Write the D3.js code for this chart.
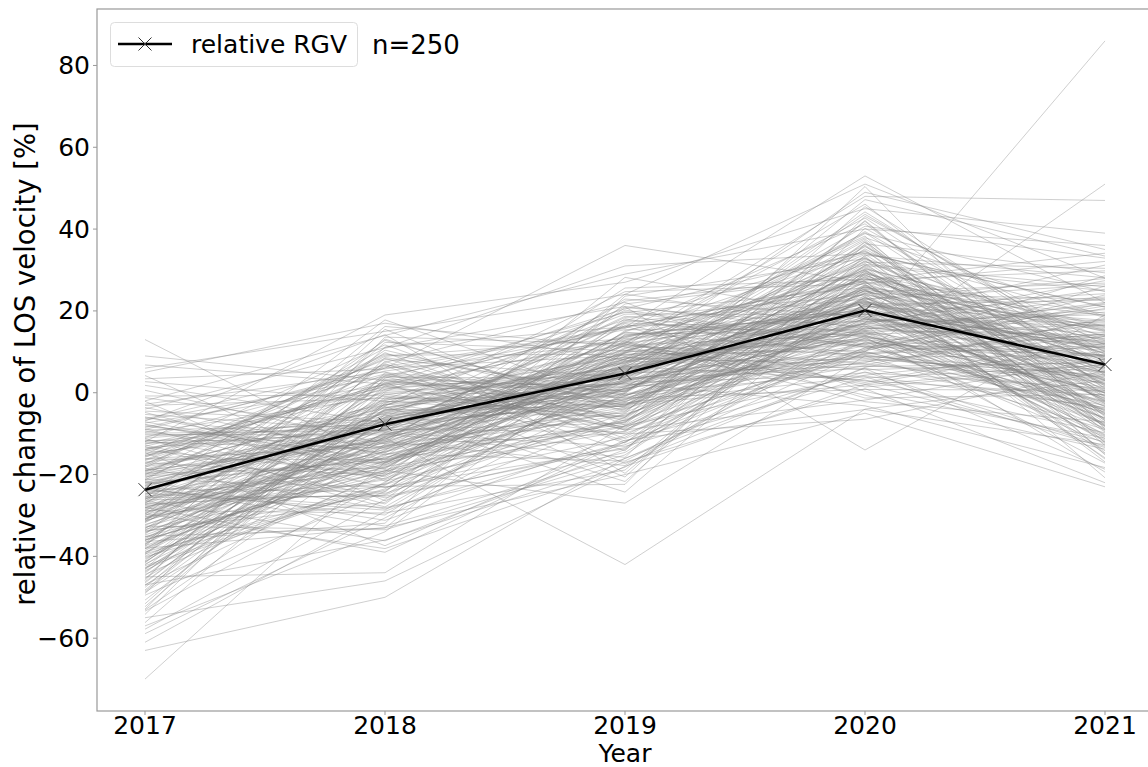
<!DOCTYPE html>
<html>
<head>
<meta charset="utf-8">
<script src="https://cdn.jsdelivr.net/npm/d3@7"></script>
<style>
  html, body { margin: 0; padding: 0; background: #fff; }
  svg { display: block; font-family: "DejaVu Sans", sans-serif; }
</style>
</head>
<body>
<svg id="chart" width="1148" height="767"></svg>
<script>
// Observation years on the x axis
const years = [2017, 2018, 2019, 2020, 2021];
const xTicks = [2017, 2018, 2019, 2020, 2021];
const yTicks = [-60, -40, -20, 0, 20, 40, 60, 80];

// Mean relative RGV per year (%)
const rgv = [-23.7, -7.7, 4.7, 20.1, 6.9];

// Relative LOS velocity change per point (%), one value per point and year;
// the i-th entry of each array belongs to the same point.
const v2017 = [
  -70, -63, -28, -22, -36, -9, -4, -26, -14, -31, -19, -24, 13, 9, -61, -57, -55, -45, 6, -12, -38, -47, 5, -2,
  -23.1, -41.6, -8.2, -30.4, -17.5, -52.3, -27.9, -12.4, -36.8, -2.1,
  -19.6, -33.2, -44.7, -25.3, -6.4, -38.9, -14.8, -29.1, -47.6, -21.7,
  1.8, -31.5, -16.2, -26.8, -42.3, -10.9, -35.4, -23.9, -56.2, -18.3,
  -28.4, -7.7, -39.6, -13.5, -33.9, -22.6, -45.9, -3.6, -30.8, -17.1,
  -26.1, -48.8, -11.2, -37.2, -20.4, -41.1, -5.3, -32.6, -24.7, -15.6,
  -53.4, -29.7, -9.1, -36.1, -19.2, -43.5, -27.3, 3.4, -12.8, -34.3,
  -22.1, -46.5, -16.9, -31.1, -8.8, -39.1, -25.8, -14.1, -50.7, -28.8,
  -1.2, -21.3, -37.8, -18.7, -33.4, -44.1, -11.7, -26.4, -4.5, -30.1,
  -41.9, -23.4, -15.1, -35.7, -7.1, -48.2, -20.9, -29.5, -13.2, -38.2,
  -24.2, -52.9, -17.8, -32.2, -9.7, -42.7, -27.1, 0.6, -36.4, -19.9,
  -45.3, -14.4, -30.7, -22.9, -6.9, -40.4, -25.1, -57.8, -16.6, -34.8,
  -11.5, -28.2, -43.1, -21.1, -3.1, -37.4, -18.1, -31.8, -49.5, -26.6,
  -13.9, -39.9, -24.5, -8.5, -33.1, -46.9, -19.4, -29.9, 6.8, -35.1,
  -22.3, -15.8, -41.3, -27.6, -10.2, -51.6, -32.9, -17.3, -38.6, -4.8,
  -25.6, -43.8, -20.1, -12.1, -36.9, -30.3, -7.4, -47.1, -23.6, -34.1,
  -16.4, -28.6, 2.7, -40.1, -21.9, -54.2, -31.4, -14.6, -26.9, -9.4,
  -37.6, -19.1, -44.4, -24.9, -11.9, -33.7, -2.8, -29.3, -42.1, -17.9,
  -22.7, -35.9, -13.1, -48.5, -27.2, -6.1, -39.3, -20.6, -31.2, -15.3,
  -45.6, -25.4, -10.6, -36.2, -18.5, -53.1, -28.9, -5.9, -41.4, -23.2,
  -32.4, -12.6, -38.1, -21.5, 4.2, -30.9, -16.1, -46.2, -26.2, -9.9,
  -34.6, -19.7, -43.2, -13.8, -28.1, -58.9, -24.1, -37.1, -7.9, -31.6,
  -21.2, -40.7, -15.4, -27.4, -0.8, -35.2, -49.1, -18.9, -29.6, -11.1,
  -25.9, -33.6, -42.9, -6.7, -39.4, -20.2
];
const v2018 = [
  -17, -50, -39, -11, -19, 6, 11, -6, 2, -9, -3, -7, -17, 3, -29, -34, -46, -44, 15, 19, -33, -36, 17, 14,
  -6.2, 3.1, -14.7, -21.3, 8.4, -2.6, -17.9, -9.8, 12.3, -26.4,
  -11.6, 0.9, -4.1, -19.2, 6.7, -23.8, -8.1, -13.3, 1.7, -31.2,
  -7.4, 16.2, -16.4, -1.8, -22.1, 4.6, -10.4, -28.1, -5.3, 9.2,
  -12.8, -18.6, 2.4, -8.9, -24.9, -3.4, 13.6, -15.2, -6.8, -20.3,
  7.1, -11.1, -27.2, -0.4, -16.9, 4.1, -9.3, -33.5, -13.9, -2.9,
  -21.8, 10.4, -7.9, -18.1, 1.2, -14.1, -4.8, 5.8, -25.7, -10.9,
  -16.1, -1.1, -12.2, 3.8, -23.2, -8.4, 17.8, -19.8, -5.9, -29.4,
  -9.6, 8.9, -15.7, -3.7, -20.9, 0.3, -11.8, -36.2, -7.1, 2.9,
  -13.1, -24.3, 11.7, -6.5, -17.4, -2.2, 6.1, -10.1, -27.9, -4.3,
  -18.8, 4.9, -8.6, -14.6, -0.9, -22.6, 9.8, -12.5, -31.9, -5.6,
  -10.6, 1.6, -19.5, -3.1, 14.2, -16.6, -7.6, -26.1, 3.3, -13.7,
  -21.1, -6.1, 7.7, -11.4, -1.4, -17.2, -9.1, 0.6, -24.1, 12.8,
  -4.6, -14.9, -28.7, 5.3, -8.2, -19.4, -2.4, -12.9, 2.1, -33.1,
  -16.2, 8.1, -5.1, -22.9, -10.3, -0.1, -15.4, 4.4, -7.3, -20.6,
  -25.3, -3.9, 10.9, -13.6, -9.9, -18.3, 1.9, -6.7, -29.9, -11.9,
  6.4, -15.9, -2.1, -23.5, -8.8, 3.6, -12.1, -37.4, -4.9, -17.6,
  15.5, -10.7, -20.1, -1.6, -7.2, -26.8, 5.1, -14.3, -3.3, 9.5,
  -11.3, -19.1, 0.8, -6.3, -24.6, -13.4, 2.6, -9.4, -16.8, -5.2,
  11.2, -22.4, -8.3, -1.9, -28.4, -12.6, 7.4, -17.1, -4.4, -32.6,
  -10.2, 1.4, -15.1, -6.9, -21.6, 4.2, -13.2, -2.7, -25.1, -9.2,
  13.1, -18.4, -5.4, 0.1, -11.7, -30.6, -7.8, 6.9, -16.3, -3.6,
  -23.1, -9.7, 2.2, -14.4, -0.6, -19.9, 8.6, -12.4, -38.1, -6.6,
  -17.7, -4.2, -10.8, 3.9, -22.3, -8.7
];
const v2019 = [
  3, -16, -12, -42, -27, 36, 31, 21, 16, 6, 12, 1, 4, -3, -6, 10, -18, -8, 24, 27, -20, -17, 8, 29,
  7.3, -2.4, 14.6, 1.1, -8.7, 19.2, 4.4, -13.1, 10.2, -0.6,
  22.4, 5.8, -5.9, 12.1, -17.3, 2.7, 8.9, -3.6, 16.3, -10.4,
  0.4, 11.3, -7.2, 6.2, 24.1, -1.3, 13.7, -14.6, 3.9, 9.4,
  -4.8, 17.6, 1.9, -9.6, 7.8, -21.7, 11.9, -2.9, 5.1, 20.8,
  -11.8, 3.2, 14.1, -6.4, 8.3, -0.2, 18.4, -16.1, 6.9, 2.3,
  12.8, -3.1, 9.9, -8.1, 4.8, 22.9, -1.7, 15.7, -12.7, 0.8,
  7.1, -5.2, 25.6, 3.5, -10.9, 10.7, -2.2, 16.9, 5.4, -18.9,
  1.5, 13.2, -7.7, 8.6, -0.9, 19.8, 4.1, -13.9, 11.4, -4.1,
  6.5, 21.7, -9.2, 2.9, 14.9, -1.1, 9.1, -15.8, 4.7, 12.4,
  -6.8, 0.2, 17.3, 7.6, -3.4, 10.1, -11.2, 5.9, 23.6, -0.4,
  8.2, -8.4, 3.1, 13.9, -19.7, 6.6, -2.6, 15.2, 1.3, -5.5,
  11.1, 4.3, -12.3, 20.2, -0.8, 8.8, -7.4, 2.1, 18.1, -3.8,
  9.6, -16.7, 5.2, 12.6, -1.9, 28.2, 7.4, -9.9, 0.6, 14.3,
  -4.4, 3.7, 10.4, -22.4, 6.1, -0.3, 16.4, -6.1, 2.5, 11.7,
  -13.4, 8.1, 21.1, 4.6, -2.8, 13.4, -8.9, 0.9, 6.8, -17.8,
  15.9, 2.6, -5.7, 9.7, -1.4, 19.6, 5.6, -11.6, 12.2, 3.4,
  -7.9, 7.9, 0.1, 17.8, -3.2, 10.9, -14.2, 4.9, 24.7, -0.7,
  6.3, -9.4, 13.6, 1.7, -5.1, 8.4, -20.6, 11.6, 3.8, -2.5,
  16.1, -6.6, 5.3, 9.3, -12.1, 0.5, 22.1, -3.9, 7.2, -15.2,
  2.8, 12.9, -1.6, 6.4, -8.2, 15.4, 4.2, -10.1, 1.2, 18.7,
  -4.6, 9.8, -24.3, 3.3, 11.8, -0.1, 7.7, -6.9, 14.8, 2.4,
  -13.7, 5.7, 20.5, -2.1, 8.7, -7.1, 0.3, 12.3, -18.2, 4.5,
  10.3, -3.3, 6.7, -9.1, 1.6, 17.1
];
const v2020 = [
  18, 6, 11, -4, 9, 27, 34, -14, 53, 17, 48, 10, 22, 15, 25, 30, 2, 14, 51, 45, -5, 1, 49, 40,
  22.3, 31.6, 14.2, 8.7, 26.4, 19.1, 37.2, 3.6, 24.8, 11.5,
  28.9, 16.7, 42.1, 20.4, 6.2, 33.4, 12.8, 25.6, -1.3, 18.3,
  30.7, 9.4, 23.1, 36.1, 15.6, 0.8, 27.3, 21.8, 44.2, 13.1,
  17.9, 34.6, 7.3, 25.1, 11.9, 29.4, 2.5, 22.7, 39.4, 16.1,
  5.1, 26.9, 19.6, 32.3, 13.9, 47.2, 23.9, 9.9, 28.1, -3.2,
  20.9, 35.2, 15.1, 4.3, 30.2, 18.6, 25.9, 41.3, 10.6, 22.1,
  33.1, 12.2, 27.7, 7.9, 21.2, 38.3, 16.9, 1.4, 24.3, 29.9,
  14.7, 19.8, 36.8, 6.8, 26.1, 11.2, 31.9, 23.4, 46.1, 17.2,
  3.1, 28.6, 21.5, 13.6, 34.1, 9.1, 19.3, 40.2, 25.3, -2.2,
  15.8, 30.9, 22.9, 8.2, 27.1, 37.9, 12.4, 18.9, 32.8, 4.9,
  24.1, 10.2, 43.6, 20.1, 29.1, 14.9, 6.6, 26.7, 35.7, 17.6,
  2.1, 22.6, 31.2, 11.8, 19.4, 27.9, 45.5, 16.4, 8.4, 24.6,
  33.8, 13.4, 21.1, -0.6, 28.4, 18.1, 38.9, 9.6, 25.4, 15.3,
  30.4, 20.7, 5.6, 36.4, 23.6, 12.1, 17.4, 41.9, 26.3, 7.1,
  19.9, 32.1, 14.4, 24.9, 1.9, 29.6, 10.9, 22.4, 34.9, 16.6,
  27.5, 4.1, 21.4, 39.1, 13.3, 25.7, 18.4, -4.1, 31.4, 8.9,
  23.3, 15.2, 35.9, 11.1, 28.8, 20.6, 43.1, 6.4, 26.6, 17.1,
  12.9, 30.1, 22.2, 9.3, 50.4, 19.2, 33.6, 14.1, 24.2, 3.9,
  27.2, 18.8, 37.6, 10.4, 21.7, 29.2, 0.3, 16.2, 40.7, 23.8,
  13.7, 25.2, 7.6, 32.6, 20.2, 15.5, 28.3, -6.5, 22.8, 11.4,
  36.9, 17.8, 26.2, 5.9, 21.9, 31.1, 14.6, 24.4, 9.7, 19.7,
  29.7, 12.6, 34.4, 18.2, 2.9, 27.6, 23.2, 42.7, 15.9, 10.1,
  21.6, 32.9, 16.8, -1.8, 25.8, 13.8
];
const v2021 = [
  9, -4, -2, 3, -9, 14, 21, 19, 22, 86, 47, 51, 12, 5, 8, -8, -12, 0, 28, 39, -23, -22, 35, 36,
  4.2, -7.3, 16.8, 9.1, -1.6, 23.4, -12.2, 6.7, 12.9, -3.8,
  1.3, 27.4, -5.9, 10.8, 18.2, -14.7, 3.6, 7.9, -0.4, 31.2,
  -9.1, 14.3, 5.2, -2.7, 21.6, 0.6, -16.9, 11.4, 8.3, -6.2,
  17.1, -1.1, 26.1, 2.9, -10.8, 9.6, 13.8, -4.5, 6.1, 20.3,
  -13.1, 4.8, 11.9, -7.9, 0.2, 33.4, 15.4, -2.2, 7.4, -18.3,
  24.2, 2.1, -5.1, 10.1, 16.3, -11.6, 5.7, -0.9, 28.6, 12.4,
  -8.4, 8.8, 19.4, -3.1, 1.8, -15.2, 14.7, 6.3, 22.8, -6.8,
  3.3, 11.2, -12.9, 17.9, -1.9, 9.3, 30.4, -4.9, 0.9, 25.3,
  -9.8, 13.1, 5.9, -17.2, 20.9, 2.4, -2.9, 8.1, 15.9, -7.1,
  11.7, -0.2, 27.9, 4.4, -11.3, 18.7, 7.1, -5.4, 13.6, 1.1,
  -14.2, 23.9, 9.9, -3.4, 16.1, -8.7, 3.9, 32.1, 6.5, -1.3,
  12.1, -6.4, 0.5, 21.2, -10.2, 14.9, 8.6, -19.4, 4.1, 26.8,
  -2.4, 10.4, 17.4, -13.8, 5.4, -0.7, 24.7, 11.1, -8.1, 2.6,
  15.2, -4.2, 7.6, 29.3, -15.9, 3.1, 19.1, -6.6, 12.7, 0.1,
  -11.9, 9.4, 22.1, -1.4, 6.9, -20.8, 16.6, 4.6, -9.4, 13.3,
  34.1, -3.6, 10.6, 1.6, -7.6, 18.9, 8.4, -12.7, 25.9, 5.1,
  -0.1, 14.1, -5.6, 20.6, 3.4, -10.4, 11.6, 7.3, -16.2, 23.1,
  9.2, -2.1, 17.7, 1.4, -8.9, 12.2, 28.1, -4.3, 6.2, -13.4,
  15.6, 4.9, -6.9, 21.9, 0.4, 10.2, -11.1, 8.9, 32.9, -1.8,
  2.2, -14.9, 13.9, 7.7, -3.3, 19.7, -9.6, 5.3, 26.4, 11.3,
  -5.2, 16.4, 0.8, -18.7, 9.7, 24.9, -7.4, 3.1, 14.4, -2.6,
  6.6, -12.4, 18.4, 10.9, -0.6, 29.8, -8.2, 4.3, 12.6, -4.7,
  22.6, 1.9, -10.6, 8.2, 15.1, -6.1
];

const seriesByYear = [v2017, v2018, v2019, v2020, v2021];
const nPoints = v2017.length;

const plot = { left: 97, right: 1153, top: 9, bottom: 711 };

const x = d3.scaleLinear().domain([2016.8, 2021.2]).range([plot.left, plot.right]);
const y = d3.scaleLinear().domain([-77.8, 93.8]).range([plot.bottom, plot.top]);

const svg = d3.select("#chart");

svg.append("defs").append("clipPath").attr("id", "plotclip")
  .append("rect")
  .attr("x", plot.left).attr("y", plot.top)
  .attr("width", plot.right - plot.left).attr("height", plot.bottom - plot.top);

const line = d3.line().x(d => x(d[0])).y(d => y(d[1]));

// individual point trajectories
const tracks = d3.range(nPoints).map(i => years.map((yr, k) => [yr, seriesByYear[k][i]]));

const gLines = svg.append("g").attr("clip-path", "url(#plotclip)");
gLines.selectAll("path.track")
  .data(tracks)
  .join("path")
  .attr("class", "track")
  .attr("d", line)
  .attr("fill", "none")
  .attr("stroke", "#808080")
  .attr("stroke-opacity", 0.38)
  .attr("stroke-width", 1);

// mean RGV line with x markers
const rgvPts = years.map((yr, k) => [yr, rgv[k]]);
gLines.append("path")
  .attr("d", line(rgvPts))
  .attr("fill", "none")
  .attr("stroke", "#000")
  .attr("stroke-width", 2.6);

const mk = 6.5;
function xMarker(g, cx, cy) {
  g.append("path")
    .attr("d", `M${cx - mk},${cy - mk}L${cx + mk},${cy + mk}M${cx - mk},${cy + mk}L${cx + mk},${cy - mk}`)
    .attr("stroke", "#333")
    .attr("stroke-width", 1)
    .attr("fill", "none");
}
rgvPts.forEach(p => xMarker(gLines, x(p[0]), y(p[1])));

// frame
const axisColor = "#999";
svg.append("rect")
  .attr("x", plot.left).attr("y", plot.top)
  .attr("width", plot.right - plot.left).attr("height", plot.bottom - plot.top)
  .attr("fill", "none").attr("stroke", axisColor).attr("stroke-width", 1.2);

const fontSize = 25;

// y axis ticks
const yAxis = svg.append("g");
yTicks.forEach(t => {
  const yy = y(t);
  yAxis.append("line").attr("x1", plot.left - 4).attr("x2", plot.left)
    .attr("y1", yy).attr("y2", yy).attr("stroke", axisColor).attr("stroke-width", 1);
  yAxis.append("text")
    .attr("x", plot.left - 7).attr("y", yy)
    .attr("text-anchor", "end").attr("dominant-baseline", "central")
    .attr("font-size", fontSize).attr("fill", "#000")
    .text(t < 0 ? "\u2212" + Math.abs(t) : String(t));
});

// x axis ticks
const xAxis = svg.append("g");
xTicks.forEach(t => {
  const xx = x(t);
  xAxis.append("line").attr("x1", xx).attr("x2", xx)
    .attr("y1", plot.bottom).attr("y2", plot.bottom + 4)
    .attr("stroke", axisColor).attr("stroke-width", 1);
  xAxis.append("text")
    .attr("x", xx).attr("y", 734)
    .attr("text-anchor", "middle")
    .attr("font-size", fontSize).attr("fill", "#000")
    .text(String(t));
});

// axis titles
svg.append("text")
  .attr("x", x(2019)).attr("y", 762)
  .attr("text-anchor", "middle")
  .attr("font-size", fontSize).attr("fill", "#000")
  .text("Year");

svg.append("text")
  .attr("transform", `translate(35, 364) rotate(-90)`)
  .attr("text-anchor", "middle")
  .attr("font-size", 27.5).attr("fill", "#000")
  .text("relative change of LOS velocity [%]");

// legend
const lg = svg.append("g");
lg.append("rect")
  .attr("x", 110.5).attr("y", 22.5).attr("width", 247).attr("height", 44)
  .attr("rx", 4).attr("ry", 4)
  .attr("fill", "#fff").attr("fill-opacity", 0.8)
  .attr("stroke", "#ddd").attr("stroke-width", 1);
lg.append("line")
  .attr("x1", 118).attr("x2", 172).attr("y1", 44).attr("y2", 44)
  .attr("stroke", "#000").attr("stroke-width", 2.6);
xMarker(lg, 145, 44);
lg.append("text")
  .attr("x", 191).attr("y", 44)
  .attr("dominant-baseline", "central")
  .attr("font-size", fontSize).attr("fill", "#000")
  .text("relative RGV");

svg.append("text")
  .attr("x", 372).attr("y", 45)
  .attr("dominant-baseline", "central")
  .attr("font-size", fontSize + 1).attr("fill", "#000")
  .text("n=" + nPoints);
</script>
</body>
</html>
